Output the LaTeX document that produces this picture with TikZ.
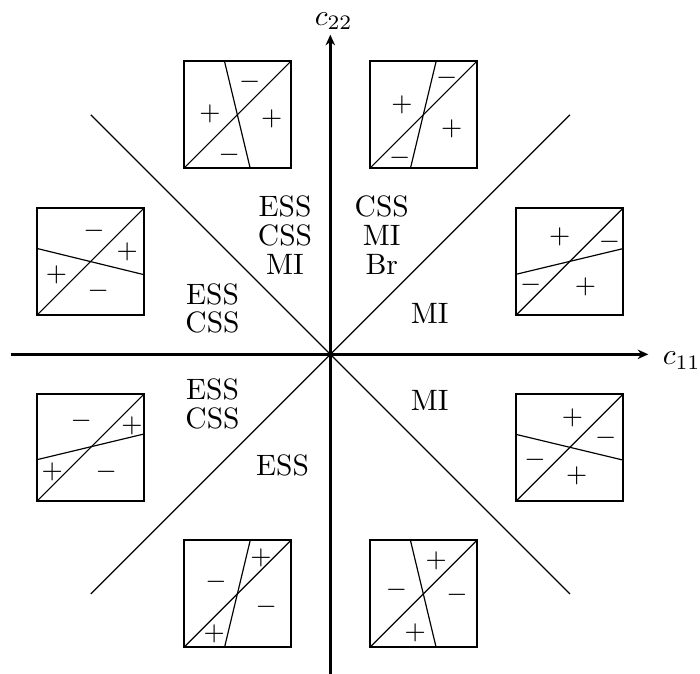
\documentclass[tikz,border=0pt]{standalone}
\usepackage{tikz}
\usetikzlibrary{arrows.meta}

\begin{document}
\begin{tikzpicture}[axisline/.style={line width=1pt,-{Stealth[length=3.6pt,width=3.2pt]}},
    boxframe/.style={line width=0.7pt},
    sgn/.style={font=\small,inner sep=0pt},
    lbl/.style={align=center,inner sep=0pt,font=\fontsize{10}{9.7}\selectfont}]
	\useasboundingbox (-3.937,-3.799) rectangle (4.406,4.223);
	% axes
	\coordinate (O) at (0,0);
	\coordinate (xl) at (-3.81,0);
	\coordinate (xr) at (3.79,0);
	\coordinate (yb) at (0,-3.82);
	\coordinate (yt) at (0,3.81);
	\draw[axisline] (xl) -- (xr);
	\draw[axisline] (yb) -- (yt);
	\node[anchor=base west,inner sep=0pt] (c11) at (3.955,-0.123) {$c_{11}$};
	\node[anchor=base west,inner sep=0pt] (c22) at (-0.19,3.925) {$c_{22}$};
	% diagonals
	\coordinate (NW) at (-2.855,2.855);
	\coordinate (NE) at (2.855,2.855);
	\coordinate (SW) at (-2.855,-2.855);
	\coordinate (SE) at (2.855,-2.855);
	\draw (NW) -- (SE);
	\draw (SW) -- (NE);
	% region labels
	\node[lbl] (ul) at (-0.54,1.422) {ESS\\CSS\\MI};
	\node[lbl] (ur) at (0.613,1.422) {CSS\\MI\\Br};
	\node[lbl] (wl) at (-1.404,0.548) {ESS\\CSS};
	\node[lbl] (wl2) at (-1.404,-0.592) {ESS\\CSS};
	\node[lbl] (sl) at (-0.570,-1.319) {ESS};
	\node[lbl] (er) at (1.185,0.492) {MI};
	\node[lbl] (er2) at (1.185,-0.545) {MI};
	% top boxes
	\begin{scope}[shift={(-1.108,2.855)},x=0.638cm,y=0.638cm]
		\draw[boxframe] (-1,-1) rectangle (1,1);
		\draw (-1,-1) -- (1,1);
		\draw (-0.24,1) -- (0.24,-1);
		\node[sgn] (n1a) at (-0.51,0.02) {$+$};
		\node[sgn] (n1b) at (0.23,0.62) {$-$};
		\node[sgn] (n1c) at (0.64,-0.07) {$+$};
		\node[sgn] (n1d) at (-0.15,-0.74) {$-$};
	\end{scope}
	\begin{scope}[shift={(1.108,2.855)},x=0.638cm,y=0.638cm]
		\draw[boxframe] (-1,-1) rectangle (1,1);
		\draw (-1,-1) -- (1,1);
		\draw (0.24,1) -- (-0.24,-1);
		\node[sgn] (n2a) at (-0.40,0.19) {$+$};
		\node[sgn] (n2b) at (0.44,0.69) {$-$};
		\node[sgn] (n2c) at (0.53,-0.27) {$+$};
		\node[sgn] (n2d) at (-0.44,-0.80) {$-$};
	\end{scope}
	% left boxes
	\begin{scope}[shift={(-2.855,1.108)},x=0.638cm,y=0.638cm]
		\draw[boxframe] (-1,-1) rectangle (1,1);
		\draw (-1,-1) -- (1,1);
		\draw (-1,0.24) -- (1,-0.25);
		\node[sgn] (w1a) at (0.06,0.57) {$-$};
		\node[sgn] (w1b) at (0.68,0.17) {$+$};
		\node[sgn] (w1c) at (-0.64,-0.26) {$+$};
		\node[sgn] (w1d) at (0.14,-0.56) {$-$};
	\end{scope}
	\begin{scope}[shift={(-2.855,-1.108)},x=0.638cm,y=0.638cm]
		\draw[boxframe] (-1,-1) rectangle (1,1);
		\draw (-1,-1) -- (1,1);
		\draw (-1,-0.23) -- (1,0.25);
		\node[sgn] (w2a) at (-0.18,0.49) {$-$};
		\node[sgn] (w2b) at (0.77,0.40) {$+$};
		\node[sgn] (w2c) at (-0.72,-0.46) {$+$};
		\node[sgn] (w2d) at (0.29,-0.46) {$-$};
	\end{scope}
	% right boxes
	\begin{scope}[shift={(2.855,1.108)},x=0.638cm,y=0.638cm]
		\draw[boxframe] (-1,-1) rectangle (1,1);
		\draw (-1,-1) -- (1,1);
		\draw (-1,-0.24) -- (1,0.24);
		\node[sgn] (e1a) at (-0.19,0.46) {$+$};
		\node[sgn] (e1b) at (0.74,0.37) {$-$};
		\node[sgn] (e1c) at (-0.73,-0.43) {$-$};
		\node[sgn] (e1d) at (0.29,-0.48) {$+$};
	\end{scope}
	\begin{scope}[shift={(2.855,-1.108)},x=0.638cm,y=0.638cm]
		\draw[boxframe] (-1,-1) rectangle (1,1);
		\draw (-1,-1) -- (1,1);
		\draw (-1,0.24) -- (1,-0.24);
		\node[sgn] (e2a) at (0.05,0.55) {$+$};
		\node[sgn] (e2b) at (0.67,0.17) {$-$};
		\node[sgn] (e2c) at (-0.65,-0.23) {$-$};
		\node[sgn] (e2d) at (0.13,-0.54) {$+$};
	\end{scope}
	% bottom boxes
	\begin{scope}[shift={(-1.108,-2.855)},x=0.638cm,y=0.638cm]
		\draw[boxframe] (-1,-1) rectangle (1,1);
		\draw (-1,-1) -- (1,1);
		\draw (0.24,1) -- (-0.24,-1);
		\node[sgn] (s1a) at (0.44,0.67) {$+$};
		\node[sgn] (s1b) at (-0.40,0.23) {$-$};
		\node[sgn] (s1c) at (0.54,-0.24) {$-$};
		\node[sgn] (s1d) at (-0.43,-0.75) {$+$};
	\end{scope}
	\begin{scope}[shift={(1.108,-2.855)},x=0.638cm,y=0.638cm]
		\draw[boxframe] (-1,-1) rectangle (1,1);
		\draw (-1,-1) -- (1,1);
		\draw (-0.24,1) -- (0.24,-1);
		\node[sgn] (s2a) at (0.24,0.62) {$+$};
		\node[sgn] (s2b) at (-0.50,0.07) {$-$};
		\node[sgn] (s2c) at (0.63,-0.02) {$-$};
		\node[sgn] (s2d) at (-0.15,-0.72) {$+$};
	\end{scope}
\end{tikzpicture}
\end{document}
